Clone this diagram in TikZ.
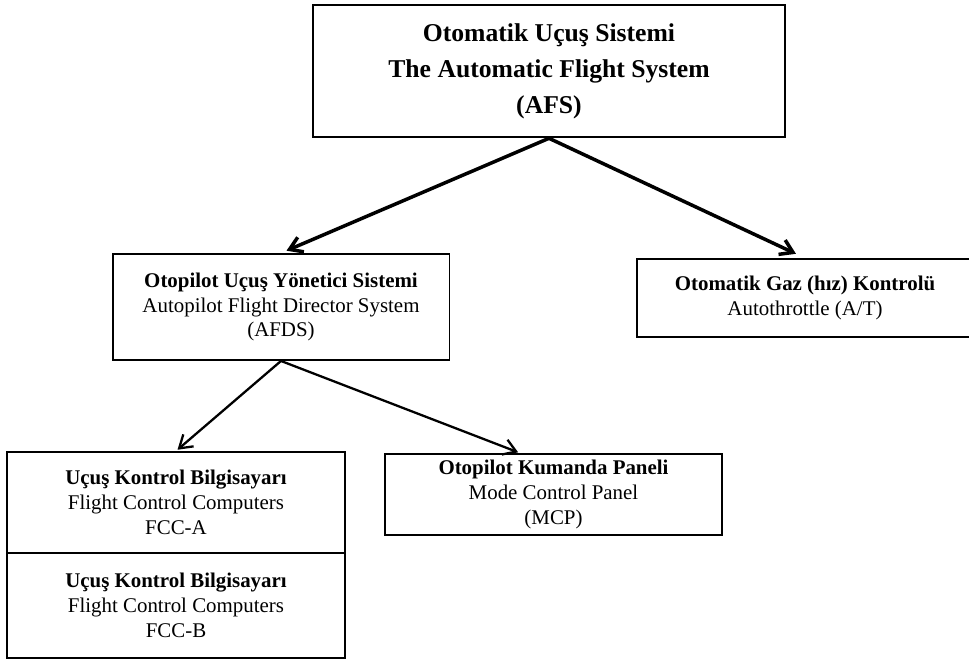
\documentclass[tikz,border=0pt]{standalone}
\usepackage{fontspec}
\setmainfont{Liberation Serif}
\usetikzlibrary{arrows.meta}

\begin{document}
\begin{tikzpicture}[x=0.02cm,y=-0.02cm,
  box/.style={draw,line width=1.1pt,align=center,inner sep=0pt,
    minimum width=6.74cm,font=\fontsize{11.9}{14.2}\selectfont},
  >={Straight Barb[length=7pt,width=9pt]}]
\useasboundingbox (0,0) rectangle (969,661);
% top box
\node[box,line width=1.5pt,minimum width=9.44cm,minimum height=2.64cm,
  font=\bfseries\fontsize{14.6}{20.4}\selectfont] (afs) at (549,71)
  {Otomatik Uçuş Sistemi\\The Automatic Flight System\\(AFS)};
% second row
\node[box,minimum height=2.12cm] (afds) at (281,307)
  {\textbf{Otopilot Uçuş Yönetici Sistemi}\\Autopilot Flight Director System\\(AFDS)};
\node[box,minimum height=1.56cm] (at) at (805,298)
  {\textbf{Otomatik Gaz (hız) Kontrolü}\\Autothrottle (A/T)};
% third row
\node[box,minimum width=6.76cm,minimum height=2.02cm] (fcca) at (176,502.5)
  {\textbf{Uçuş Kontrol Bilgisayarı}\\Flight Control Computers\\FCC-A};
\node[box,minimum width=6.76cm,minimum height=2.1cm] (fccb) at (176,605.5)
  {\textbf{Uçuş Kontrol Bilgisayarı}\\Flight Control Computers\\FCC-B};
\node[box,minimum height=1.62cm] (mcp) at (553.5,494.5)
  {\textbf{Otopilot Kumanda Paneli}\\Mode Control Panel\\(MCP)};
% arrows
\draw[->,line width=2pt,shorten >=0.12cm] (afs.south) -- (afds.north);
\draw[->,line width=2pt,shorten >=0.2cm] (afs.south) -- (at.north);
\draw[->,line width=1.3pt,shorten >=0.04cm] (afds.south) -- (fcca.north);
\draw[->,line width=1.3pt,shorten >=0.04cm] (afds.south) -- ([xshift=-0.67cm]mcp.north);
\end{tikzpicture}
\end{document}
